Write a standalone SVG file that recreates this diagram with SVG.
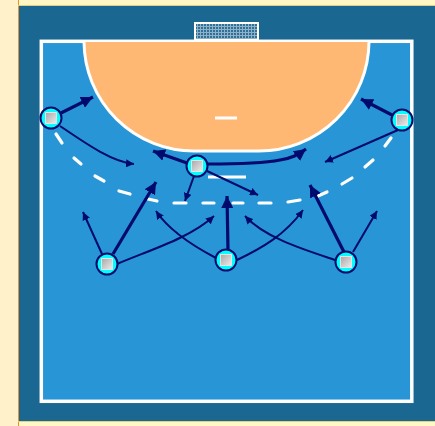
<svg xmlns="http://www.w3.org/2000/svg" width="435" height="426" viewBox="0 0 435 426">
<style>
.thick{fill:none;stroke:#000a6e;stroke-width:3.200;marker-end:url(#big)}
.thin{fill:none;stroke:#000a6e;stroke-width:2;marker-end:url(#small)}
.ring{fill:#00ffff;stroke:#000a6e;stroke-width:2}
.sq{fill:url(#metal);stroke:#e4e4e4;stroke-width:1}
.mark{stroke:#fff;stroke-width:3;fill:none}
</style>
<defs>
<marker id="big" markerUnits="userSpaceOnUse" markerWidth="14" markerHeight="12" refX="12" refY="6" orient="auto"><path d="M0 0L12 6L0 12z" fill="#000a6e"/></marker>
<marker id="small" markerUnits="userSpaceOnUse" markerWidth="10" markerHeight="8" refX="8" refY="4" orient="auto"><path d="M0 0L8 4L0 8z" fill="#000a6e"/></marker>
<linearGradient id="metal" x1="0" y1="0" x2="1" y2="1"><stop offset="0" stop-color="#a8a8a8"/><stop offset="1" stop-color="#ececec"/></linearGradient>
<pattern id="net" width="3" height="3" patternUnits="userSpaceOnUse"><rect width="3" height="3" fill="#8fb2c8"/><rect width="2" height="2" fill="#2f7099"/></pattern>
<symbol id="player" overflow="visible"><circle class="ring" r="10.500"/><rect class="sq" x="-5.500" y="-5.500" width="11" height="11"/></symbol>
</defs>
<rect id="bg" width="435" height="426" fill="#fff1c9"/>
<rect x="18" y="0" width="417" height="5" fill="#fff8c4"/>
<rect x="18" y="421" width="417" height="5" fill="#fff8c4"/>
<rect x="18" y="5" width="417" height="416" fill="#1a6891"/>
<path d="M18.500 0V426" stroke="#e8912d" stroke-width="1" fill="none"/>
<path d="M18 5.500H435M18 421.500H435" stroke="#e0d080" stroke-width="1" fill="none"/>
<rect id="court" x="41.300" y="41.300" width="370.500" height="360" fill="#2896d6" stroke="#fff" stroke-width="3.500"/>
<rect id="goal" x="195" y="23" width="63" height="17" fill="url(#net)" stroke="#fff" stroke-width="2"/>
<path id="area" d="M84 42A110 110 0 0 0 194 151H259A110 110 0 0 0 369 42" fill="#ffb873" stroke="#fff" stroke-width="3"/>
<path class="mark" d="M215 118H237M208 177H246"/>
<path id="freeline" d="M56 134L62 143M74 158L81 164M95 176L104 181M119 191L130 194M148 199L157 201M174 203H186M203 203H214M233 203H243M259 203H271M288 202L300 200M318 196L327 192M342 184L352 178M365 167L373 160M385 146L391 138" fill="none" stroke="#fff" stroke-width="3.200" stroke-linecap="round"/>
<g id="connectors">
<path class="thick" d="M61 113L93 97"/>
<path class="thick" d="M392 115L361 99"/>
<path class="thick" d="M187 163L153 151"/>
<path class="thick" d="M207 164C240 164 265 163 280 160C292 158 298 155 306 149"/>
<path class="thin" d="M194 176L185 201"/>
<path class="thin" d="M207 171L258 195"/>
<path class="thin" d="M60 126C85 143 112 162 134 164"/>
<path class="thin" d="M398 130L325 162"/>
<path class="thick" d="M113 254L156 182"/>
<path class="thin" d="M102 254L83 212"/>
<path class="thin" d="M117 264C150 250 190 238 214 216"/>
<path class="thick" d="M228 250L227 196"/>
<path class="thin" d="M216 258C195 247 170 232 156 211"/>
<path class="thin" d="M237 260C262 248 285 235 303 210"/>
<path class="thick" d="M344 252L310 185"/>
<path class="thin" d="M353 252L377 211"/>
<path class="thin" d="M335 260C305 250 265 238 245 216"/>
</g>
<g id="p1"><use href="#player" x="51" y="118"/></g>
<g id="p2"><use href="#player" x="402" y="120"/></g>
<g id="p3"><use href="#player" x="197" y="166"/></g>
<g id="p4"><use href="#player" x="107" y="264"/></g>
<g id="p5"><use href="#player" x="226" y="260"/></g>
<g id="p6"><use href="#player" x="346" y="262"/></g>
</svg>
